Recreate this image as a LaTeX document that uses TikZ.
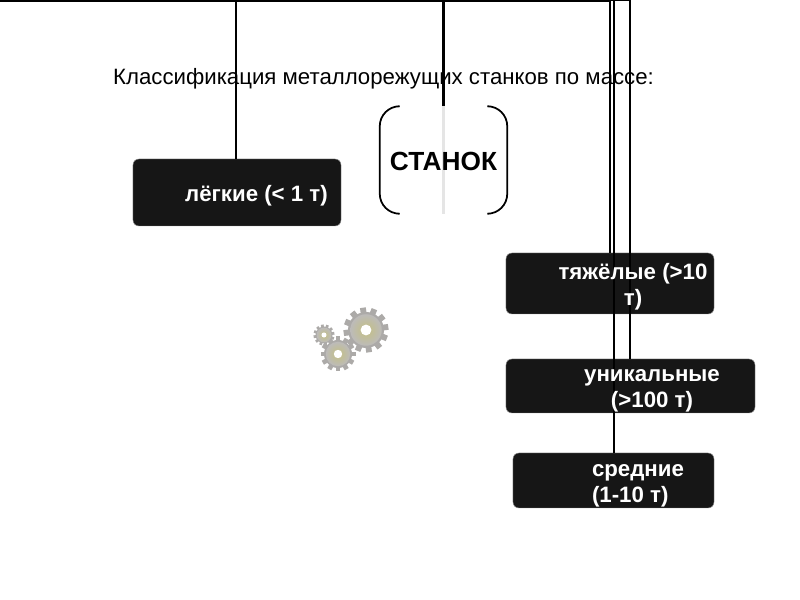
\documentclass[tikz,border=0pt]{standalone}
\usepackage{fontspec}
\setmainfont{Liberation Sans}
\usetikzlibrary{calc,positioning}
\definecolor{boxDark}{RGB}{22,22,22}
\definecolor{gearOlive}{RGB}{196,192,130}
\definecolor{gearGrey}{RGB}{172,170,168}
\colorlet{palewire}{black!10}
\newcommand{\gearat}[4]{%
  \begin{scope}[shift={(#1,#2)}]
    \foreach \ang in {0,30,...,330}
      \fill[gearGrey,rotate=\ang+#4] (-0.13*#3,0) rectangle (0.13*#3,1.0*#3);
    \fill[gearGrey] (0,0) circle (0.8*#3);
    \shade[inner color=gearOlive,outer color=gearGrey!80] (0,0) circle (0.7*#3);
    \fill[white] (0,0) circle (0.24*#3);
  \end{scope}}
\begin{document}
\begin{tikzpicture}[x=0.03cm,y=-0.03cm,
    massbox/.style={fill=boxDark,draw=black!45,line width=0.4pt,rounded corners=5pt},
    boxtext/.style={font=\fontsize{19}{22.5}\selectfont\bfseries,text=white,align=center,inner sep=0pt},
    wire/.style={draw=black,line width=2pt},
    thinwire/.style={draw=black,line width=1.7pt},
    bracket/.style={draw=black,line width=1.5pt,rounded corners=17pt}
  ]
    \useasboundingbox (0,0) rectangle (800,600);
    % title
    \node[font=\fontsize{18.96}{22}\selectfont,inner sep=0pt] (title) at (383.5,78.5) {Классификация металлорежущих станков по массе:};

    % boxes
    \node[massbox,minimum width=6.24cm,minimum height=2.01cm] (light) at (237,192.5) {};
    \node[massbox,minimum width=6.24cm,minimum height=1.83cm] (heavy) at (610,283.5) {};
    \node[massbox,minimum width=7.47cm,minimum height=1.62cm] (unique) at (630.5,386) {};
    \node[massbox,minimum width=6.03cm,minimum height=1.65cm] (medium) at (613.5,480.5) {};

    % root
    \node[minimum width=3.81cm,minimum height=3.21cm,inner sep=0pt] (machine) at (443.5,160) {};
    \draw[bracket] ($(machine.north west)+(18,0)$) -- (machine.north west)
      -- (machine.south west) -- ($(machine.south west)+(18,0)$);
    \draw[bracket] ($(machine.north east)+(-18,0)$) -- (machine.north east)
      -- (machine.south east) -- ($(machine.south east)+(-18,0)$);

    % connectors
    \coordinate (topleft) at (0,0.5);
    \coordinate (toplight) at (236,0.5);
    \coordinate (topmachine) at (443.5,0.5);
    \coordinate (topheavy) at (610,0.5);
    \coordinate (topmedium) at (613.5,0.5);
    \coordinate (topunique) at (630,0.5);
    \draw[wire] (topleft) -- (topheavy);
    \draw[thinwire] (topheavy) -- (topunique);
    \draw[thinwire] (toplight) -- (toplight |- light.north);
    \draw[line width=2.6pt,draw=black] (topmachine) -- (machine.north);
    \draw[line width=2.6pt,draw=palewire] (machine.north) -- (machine.south);
    \draw[thinwire] (topheavy) -- (topheavy |- heavy.north);
    \draw[thinwire] (topmedium) -- (topmedium |- medium.north);
    \draw[thinwire] (topunique) -- (topunique |- unique.north);

    % texts
    \node[font=\fontsize{22.4}{26}\selectfont\bfseries,inner sep=0pt] (machinetext) at (443.5,161) {СТАНОК};
    \node[boxtext] (lighttext) at (256.5,196) {лёгкие (< 1 т)};
    \node[boxtext] (heavytext) at (633,287) {тяжёлые (>10\\т)};
    \node[boxtext] (uniquetext) at (652,391) {уникальные\\(>100 т)};
    \node[boxtext,align=left] (mediumtext) at (638,486) {средние\\(1-10 т)};

    % gears
    \gearat{366}{330}{22.5}{8}
    \gearat{338}{354}{17.5}{0}
    \gearat{324}{335}{10.5}{10}
\end{tikzpicture}
\end{document}
